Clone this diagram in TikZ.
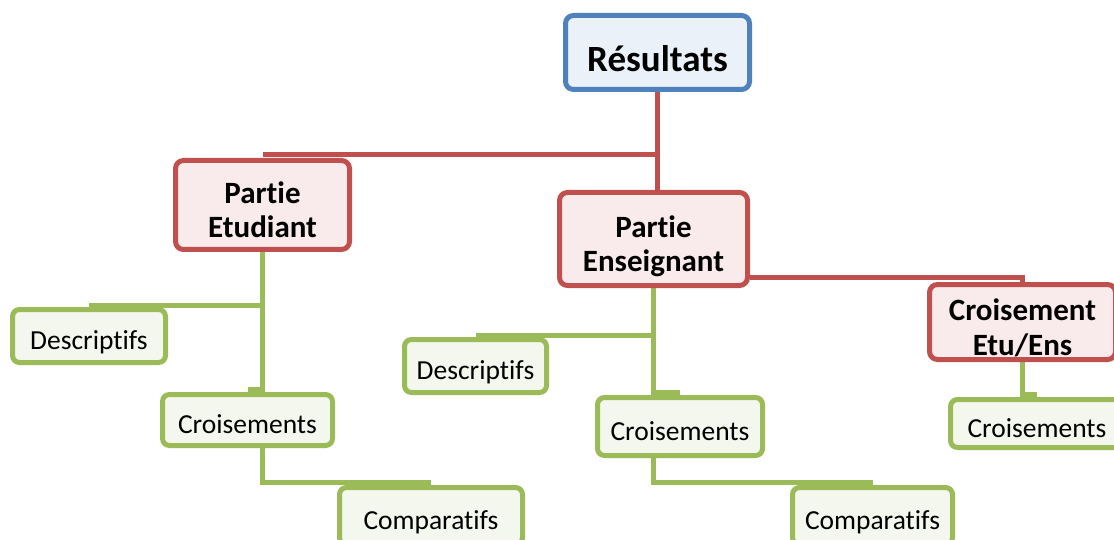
\documentclass[tikz,border=0pt]{standalone}
\usepackage{fontspec}
\setmainfont[Ligatures=NoCommon]{Carlito}
\usetikzlibrary{backgrounds}
\definecolor{topblue}{HTML}{4F81BD}
\definecolor{topfill}{HTML}{EBF1F8}
\definecolor{partred}{HTML}{C0504D}
\definecolor{partfill}{HTML}{F9EBEB}
\definecolor{leafgreen}{HTML}{9BBB59}
\definecolor{leaffill}{HTML}{F4F7EE}
\begin{document}
\begin{tikzpicture}[x=1pt, y=-1pt,
    topbox/.style={draw=topblue, fill=topfill, line width=5pt, rounded corners=8pt,
      font=\fontsize{37}{44}\selectfont\bfseries, text height=39pt, text depth=0pt},
    partbox/.style={draw=partred, fill=partfill, line width=5pt, rounded corners=8pt,
      align=center, font=\fontsize{31}{35}\selectfont\bfseries, text height=66pt, text depth=0pt},
    leafbox/.style={draw=leafgreen, fill=leaffill, line width=5pt, rounded corners=7pt,
      font=\fontsize{27.5}{32}\selectfont, text height=27pt, text depth=0pt},
    redlink/.style={draw=partred, line width=5pt},
    greenlink/.style={draw=leafgreen, line width=5pt}]
  \useasboundingbox (0,0) rectangle (1114,540);
  \node[topbox, minimum width=184pt, minimum height=74pt] (res) at (657.5,52.5) {Résultats};
  \node[partbox, minimum width=174pt, minimum height=89pt] (etu) at (262.5,205) {Partie\\Etudiant};
  \node[partbox, minimum width=188pt, minimum height=93pt] (ens) at (653.5,239) {Partie\\Enseignant};
  \node[partbox, minimum width=186pt, minimum height=75pt] (croi) at (1022.5,322) {Croisement\\Etu/Ens};
  \node[leafbox, minimum width=153pt, minimum height=53pt] (desc1) at (89,336) {Descriptifs};
  \node[leafbox, minimum width=170pt, minimum height=51pt] (crois1) at (247.5,420) {Croisements};
  \node[leafbox, minimum width=183pt, minimum height=57pt] (comp1) at (431,516) {Comparatifs};
  \node[leafbox, minimum width=142pt, minimum height=53pt] (desc2) at (475.5,366) {Descriptifs};
  \node[leafbox, minimum width=165pt, minimum height=58pt] (crois2) at (680,426.5) {Croisements};
  \node[leafbox, minimum width=160pt, minimum height=57pt] (comp2) at (872.5,516) {Comparatifs};
  \node[leafbox, minimum width=173pt, minimum height=48pt] (crois3) at (1037,423.5) {Croisements};
  \begin{pgfonlayer}{background}
    \draw[redlink] ([yshift=3pt]etu.north) -| (res.south);
    \draw[redlink] (res.south) -- (res.south |- ens.north);
    \draw[redlink] ([yshift=11pt]ens.south east) -| (croi.north);
    \draw[greenlink] (etu.south) |- ([yshift=2pt]desc1.north);
    \draw[greenlink] (etu.south) |- ([yshift=3pt]crois1.north);
    \draw[greenlink] (etu.south |- crois1.south) |- ([yshift=3pt]comp1.north);
    \draw[greenlink] (ens.south) |- ([yshift=2pt]desc2.north);
    \draw[greenlink] (ens.south) |- ([yshift=3pt]crois2.north);
    \draw[greenlink] (ens.south |- crois2.south) |- ([yshift=3pt]comp2.north);
    \draw[greenlink] (croi.south) |- ([yshift=3pt]crois3.north);
  \end{pgfonlayer}
\end{tikzpicture}
\end{document}
